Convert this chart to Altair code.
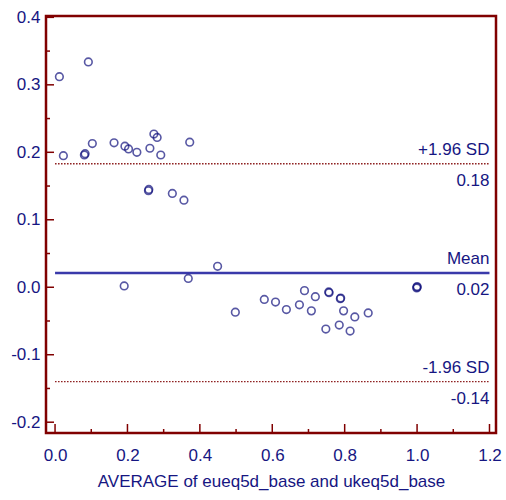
import altair as alt
import pandas as pd

# Bland-Altman data
avg_vals = [0.012, 0.092, 0.023, 0.081, 0.083, 0.103, 0.163, 0.193, 0.203, 0.226,
            0.262, 0.273, 0.282, 0.292, 0.372, 0.258, 0.259, 0.324, 0.356, 0.191,
            0.368, 0.449, 0.498, 0.578, 0.609, 0.639, 0.675, 0.689, 0.708, 0.719,
            0.756, 0.757, 0.788, 0.789, 0.797, 0.828, 0.865, 0.748, 0.785, 0.815,
            0.999, 1.0, 1.0]
diff_vals = [0.312, 0.334, 0.195, 0.196, 0.198, 0.213, 0.214, 0.209, 0.205, 0.200,
             0.206, 0.227, 0.222, 0.196, 0.215, 0.143, 0.145, 0.139, 0.129, 0.002,
             0.013, 0.031, -0.037, -0.018, -0.022, -0.033, -0.026, -0.005, -0.035, -0.014,
             -0.007, -0.008, -0.017, -0.016, -0.035, -0.044, -0.038, -0.062, -0.056, -0.065,
             -0.001, 0.0, 0.001]

ref_names = ["+1.96 SD", "Mean", "-1.96 SD"]
ref_values = [0.183, 0.021, -0.140]
ref_value_labels = ["0.18", "0.02", "-0.14"]

y_major = [-0.2, -0.1, 0.0, 0.1, 0.2, 0.3, 0.4]
y_minor = [-0.15, -0.05, 0.05, 0.15, 0.25, 0.35]
x_major = [0.0, 0.2, 0.4, 0.6, 0.8, 1.0, 1.2]
x_minor = [0.1, 0.3, 0.5, 0.7, 0.9, 1.1]

NAVY = "#161682"
MAROON = "#800000"
FONT = "Liberation Sans"

xdom = [-0.025, 1.218]
ydom = [-0.216, 0.402]

pts = pd.DataFrame({"avg": avg_vals, "diff": diff_vals})
refs = pd.DataFrame({"name": ref_names, "value": ref_values, "lab": ref_value_labels,
                     "x0": [0.0] * 3, "x1": [1.2] * 3})

xs = alt.Scale(domain=xdom, nice=False, zero=False)
ys = alt.Scale(domain=ydom, nice=False, zero=False)

xaxis = alt.Axis(values=x_major, labelExpr="replace(format(datum.value,'.1f'),'\u2212','-')",
                 ticks=False, domain=False, grid=False, labelPadding=14,
                 labelFontSize=17, labelColor=NAVY, labelFont=FONT,
                 title="AVERAGE of eueq5d_base and ukeq5d_base",
                 titleFontSize=17, titleFontWeight="normal", titleColor=NAVY,
                 titleFont=FONT, titlePadding=10)
yaxis = alt.Axis(values=y_major, labelExpr="replace(format(datum.value,'.1f'),'\u2212','-')",
                 ticks=False, domain=False, grid=False, labelPadding=6,
                 labelFontSize=17, labelColor=NAVY, labelFont=FONT, title=None)

points = alt.Chart(pts).mark_point(shape="circle", filled=False, size=58,
                                   strokeWidth=1.6, color="#12127e").encode(
    x=alt.X("avg:Q", scale=xs, axis=xaxis),
    y=alt.Y("diff:Q", scale=ys, axis=yaxis),
)

sd_lines = alt.Chart(refs[refs["name"] != "Mean"]).mark_rule(
    color="#8b1a1a", strokeWidth=1.3, strokeDash=[1.5, 1.5]).encode(
    x=alt.X("x0:Q", scale=xs), x2="x1:Q", y=alt.Y("value:Q", scale=ys))
mean_line = alt.Chart(refs[refs["name"] == "Mean"]).mark_rule(
    color="#3a3aaa", strokeWidth=2.5).encode(
    x=alt.X("x0:Q", scale=xs), x2="x1:Q", y=alt.Y("value:Q", scale=ys))

name_text = alt.Chart(refs).mark_text(align="right", baseline="bottom", dy=-5,
                                      fontSize=17, font=FONT, color=NAVY).encode(
    x=alt.X("x1:Q", scale=xs), y=alt.Y("value:Q", scale=ys), text="name:N")
val_text = alt.Chart(refs).mark_text(align="right", baseline="top", dy=9,
                                     fontSize=17, font=FONT, color=NAVY).encode(
    x=alt.X("x1:Q", scale=xs), y=alt.Y("value:Q", scale=ys), text="lab:N")

ymaj = alt.Chart(pd.DataFrame({"v": y_major})).mark_rule(color=MAROON, strokeWidth=1.5).encode(
    y=alt.Y("v:Q", scale=ys), x=alt.value(0), x2=alt.value(8))
ymin = alt.Chart(pd.DataFrame({"v": y_minor})).mark_rule(color=MAROON, strokeWidth=1.5).encode(
    y=alt.Y("v:Q", scale=ys), x=alt.value(0), x2=alt.value(4))
xmaj = alt.Chart(pd.DataFrame({"v": x_major})).mark_rule(color=MAROON, strokeWidth=1.5).encode(
    x=alt.X("v:Q", scale=xs), y=alt.value(417), y2=alt.value(408))
xmin = alt.Chart(pd.DataFrame({"v": x_minor})).mark_rule(color=MAROON, strokeWidth=1.5).encode(
    x=alt.X("v:Q", scale=xs), y=alt.value(417), y2=alt.value(413))

chart = alt.layer(ymaj, ymin, xmaj, xmin, sd_lines, mean_line, name_text, val_text, points).properties(
    width=450, height=417,
    background="white",
    autosize=alt.AutoSizeParams(type="none"),
    padding={"left": 46, "top": 16, "right": 10, "bottom": 67},
).configure_view(stroke=MAROON, strokeWidth=2.5)

chart.save("out.html", embed_options={"renderer": "svg", "actions": False})
